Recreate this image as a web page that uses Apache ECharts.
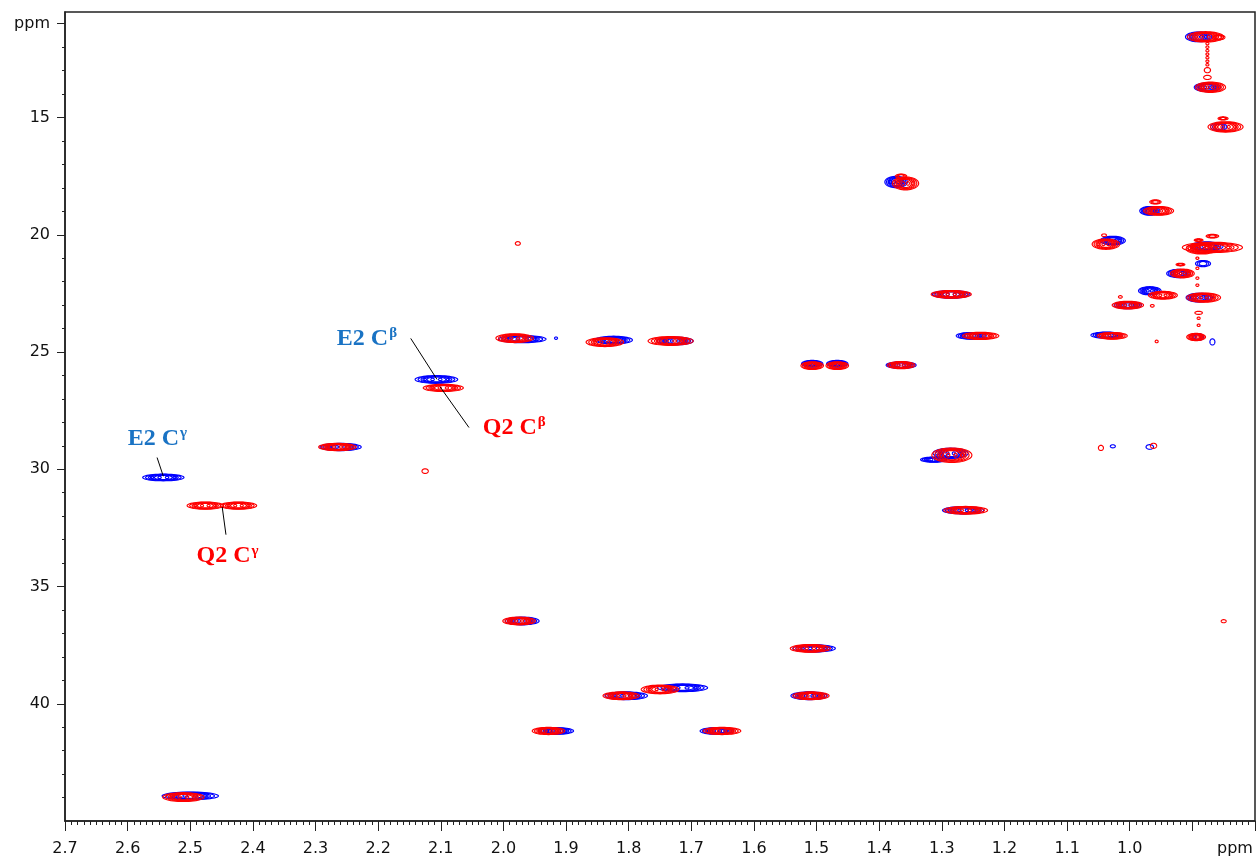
<!DOCTYPE html>
<html>
<head>
<meta charset="utf-8">
<script src="https://cdn.jsdelivr.net/npm/echarts@6/dist/echarts.min.js"></script>
<style>
  html, body { margin: 0; padding: 0; background: #fff; }
  #chart { width: 1259px; height: 858px; }
</style>
</head>
<body>
<div id="chart"></div>
<script>
// 1H / 13C correlation peaks, ppm: [1H shift, 13C shift, 1H half-width, 13C half-width]
const bluePeaks = [
  [0.890, 11.56, 0.021, 0.19],
  [0.876, 13.71, 0.021, 0.17],
  [0.858, 15.40, 0.013, 0.15],
  [1.373, 17.75, 0.018, 0.22],
  [0.968, 18.98, 0.016, 0.17],
  [1.027, 20.25, 0.020, 0.17],
  [0.877, 20.49, 0.026, 0.17],
  [0.883, 21.23, 0.012, 0.12],
  [0.922, 21.65, 0.019, 0.16],
  [0.968, 22.39, 0.018, 0.16],
  [0.889, 22.68, 0.021, 0.17],
  [1.003, 23.00, 0.022, 0.14],
  [1.037, 24.28, 0.025, 0.12],
  [0.891, 24.36, 0.009, 0.13],
  [0.868, 24.57, 0.004, 0.12],
  [1.970, 24.45, 0.038, 0.14],
  [1.916, 24.41, 0.002, 0.04],
  [1.824, 24.49, 0.030, 0.15],
  [1.726, 24.53, 0.029, 0.15],
  [1.507, 25.50, 0.017, 0.13],
  [1.467, 25.50, 0.017, 0.13],
  [1.365, 25.56, 0.024, 0.13],
  [1.285, 22.54, 0.030, 0.15],
  [1.253, 24.31, 0.024, 0.13],
  [2.107, 26.17, 0.034, 0.15],
  [2.260, 29.05, 0.033, 0.14],
  [1.027, 29.02, 0.004, 0.06],
  [0.968, 29.05, 0.006, 0.09],
  [1.313, 29.59, 0.021, 0.10],
  [1.286, 29.32, 0.028, 0.20],
  [2.543, 30.35, 0.033, 0.13],
  [1.266, 31.75, 0.033, 0.14],
  [1.970, 36.47, 0.027, 0.15],
  [1.504, 37.64, 0.034, 0.14],
  [1.714, 39.32, 0.040, 0.15],
  [1.804, 39.66, 0.034, 0.15],
  [1.512, 39.66, 0.029, 0.15],
  [1.916, 41.16, 0.028, 0.13],
  [1.659, 41.16, 0.027, 0.13],
  [2.500, 43.93, 0.045, 0.15]
];

const redPeaks = [
  [0.879, 11.56, 0.029, 0.20],
  [0.858, 11.58, 0.010, 0.10],
  [0.876, 11.85, 0.002, 0.04],
  [0.876, 12.00, 0.002, 0.04],
  [0.876, 12.15, 0.002, 0.04],
  [0.876, 12.30, 0.002, 0.04],
  [0.876, 12.45, 0.002, 0.04],
  [0.876, 12.60, 0.002, 0.04],
  [0.876, 12.75, 0.002, 0.04],
  [0.876, 12.98, 0.005, 0.10],
  [0.876, 13.29, 0.006, 0.08],
  [0.871, 13.71, 0.024, 0.20],
  [0.847, 15.40, 0.028, 0.20],
  [0.851, 15.04, 0.008, 0.06],
  [1.358, 17.81, 0.021, 0.25],
  [1.365, 17.50, 0.009, 0.08],
  [0.954, 18.98, 0.024, 0.17],
  [0.959, 18.60, 0.009, 0.08],
  [1.038, 20.40, 0.022, 0.20],
  [1.041, 20.02, 0.004, 0.05],
  [0.868, 20.54, 0.048, 0.20],
  [0.885, 20.60, 0.025, 0.20],
  [0.868, 20.06, 0.010, 0.07],
  [0.890, 20.23, 0.007, 0.05],
  [0.892, 21.00, 0.002, 0.04],
  [0.892, 21.43, 0.002, 0.04],
  [0.892, 21.85, 0.002, 0.04],
  [0.892, 22.15, 0.002, 0.04],
  [0.916, 21.65, 0.019, 0.17],
  [0.919, 21.27, 0.007, 0.05],
  [0.947, 22.58, 0.023, 0.15],
  [0.964, 23.03, 0.003, 0.05],
  [1.003, 23.00, 0.025, 0.15],
  [1.015, 22.65, 0.003, 0.05],
  [0.882, 22.68, 0.027, 0.18],
  [0.890, 23.33, 0.006, 0.06],
  [0.890, 23.56, 0.002, 0.04],
  [0.890, 23.86, 0.002, 0.04],
  [1.028, 24.31, 0.024, 0.13],
  [0.894, 24.36, 0.015, 0.14],
  [0.957, 24.55, 0.002, 0.05],
  [1.982, 24.41, 0.030, 0.17],
  [1.838, 24.58, 0.030, 0.17],
  [1.733, 24.53, 0.036, 0.17],
  [1.977, 20.37, 0.004, 0.07],
  [1.507, 25.58, 0.018, 0.15],
  [1.467, 25.58, 0.018, 0.15],
  [1.365, 25.56, 0.022, 0.14],
  [1.285, 22.54, 0.032, 0.15],
  [1.238, 24.31, 0.029, 0.14],
  [2.096, 26.53, 0.032, 0.14],
  [2.265, 29.05, 0.030, 0.14],
  [2.125, 30.08, 0.005, 0.09],
  [2.476, 31.55, 0.029, 0.14],
  [2.423, 31.55, 0.029, 0.14],
  [1.284, 29.40, 0.032, 0.28],
  [1.262, 31.75, 0.035, 0.15],
  [1.046, 29.09, 0.004, 0.10],
  [0.962, 29.00, 0.005, 0.10],
  [0.850, 36.48, 0.004, 0.06],
  [1.975, 36.47, 0.026, 0.15],
  [1.510, 37.64, 0.032, 0.15],
  [1.750, 39.39, 0.030, 0.17],
  [1.812, 39.66, 0.029, 0.15],
  [1.509, 39.66, 0.029, 0.15],
  [1.928, 41.16, 0.026, 0.14],
  [1.651, 41.16, 0.030, 0.14],
  [2.511, 43.98, 0.033, 0.17]
];

// Assignment labels: text, superscript, colour
const labelMain = ['E2 C', 'Q2 C', 'E2 C', 'Q2 C'];
const labelSup = ['\u03B2', '\u03B2', '\u03B3', '\u03B3'];
const labelColor = ['#1a73c4', '#ff0000', '#1a73c4', '#ff0000'];
// Label anchor and leader line ends, ppm: [x, y, x1, y1, x2, y2]
const labelGeom = [
  [2.266, 24.42, 2.148, 24.42, 2.106, 26.17],
  [2.033, 28.24, 2.101, 26.49, 2.055, 28.22],
  [2.600, 28.69, 2.553, 29.50, 2.543, 30.30],
  [2.490, 33.71, 2.449, 31.61, 2.443, 32.79]
];

// Axis ranges and tick values
const xRange = [0.8, 2.7];
const yRange = [10.5, 45];
const yMajorTicks = [11, 15, 20, 25, 30, 35, 40];
const yMinorTicks = [11, 12, 13, 14, 15, 16, 17, 18, 19, 20, 21, 22, 23, 24, 25, 26, 27,
  28, 29, 30, 31, 32, 33, 34, 35, 36, 37, 38, 39, 40, 41, 42, 43, 44];

const AXIS_COLOR = '#222';
const LABEL_FONT = 'DejaVu Sans';

function ellipsePoints(cx, cy, rx, ry) {
  const pts = [];
  const n = 48;
  for (let i = 0; i < n; i++) {
    const a = (i / n) * Math.PI * 2;
    pts.push([cx + rx * Math.cos(a), cy + ry * Math.sin(a)]);
  }
  return pts;
}

// Nested contour rings around each peak
function contourRenderer(color) {
  return function (params, api) {
    const c = api.coord([api.value(0), api.value(1)]);
    const s = api.size([api.value(2), api.value(3)]);
    const rx = Math.max(1.5, Math.abs(s[0]));
    const ry = Math.max(1.2, Math.abs(s[1]) * 1.1);
    const style = { stroke: color, fill: 'none', lineWidth: 1.15 };
    const children = [];
    let levels;
    if (rx < 4) levels = [1];
    else if (rx < 9) levels = [1, 0.75, 0.5];
    else levels = [1, 0.86, 0.72, 0.58, 0.44];
    levels.forEach(function (k) {
      children.push({
        type: 'polygon',
        shape: { points: ellipsePoints(c[0], c[1], rx * k, ry * (0.35 + 0.65 * k)) },
        style: style
      });
    });
    if (rx >= 9) {
      [-0.55, -0.18, 0.18, 0.55].forEach(function (o) {
        children.push({
          type: 'polygon',
          shape: { points: ellipsePoints(c[0] + o * rx, c[1], Math.max(1.5, rx * 0.08), Math.max(1.2, ry * 0.28)) },
          style: style
        });
      });
    }
    return { type: 'group', children: children };
  };
}

function annotationRenderer(params, api) {
  const i = params.dataIndex;
  const p = api.coord([api.value(0), api.value(1)]);
  const a = api.coord([api.value(2), api.value(3)]);
  const b = api.coord([api.value(4), api.value(5)]);
  const color = labelColor[i];
  return {
    type: 'group',
    children: [
      { type: 'line', shape: { x1: a[0], y1: a[1], x2: b[0], y2: b[1] }, style: { stroke: '#000', lineWidth: 1 } },
      {
        type: 'text', x: p[0], y: p[1],
        style: {
          text: '{m|' + labelMain[i] + '}{s|' + labelSup[i] + '}',
          align: 'left', verticalAlign: 'middle',
          rich: {
            m: { fontSize: 24, fontWeight: 'bold', fontFamily: 'Liberation Serif', fill: color, lineHeight: 26 },
            s: { fontSize: 15, fontWeight: 'bold', fontFamily: 'Liberation Serif', fill: color, verticalAlign: 'top', lineHeight: 15, padding: [0, 0, 0, 1] }
          }
        }
      }
    ]
  };
}

const chart = echarts.init(document.getElementById('chart'), null, { renderer: 'canvas' });

chart.setOption({
  animation: false,
  backgroundColor: '#fff',
  grid: {
    left: 65, right: 4, top: 12, bottom: 37,
    show: true, borderColor: AXIS_COLOR, borderWidth: 1.5,
    outerBoundsMode: 'none'
  },
  xAxis: {
    type: 'value', min: xRange[0], max: xRange[1], interval: 0.1, inverse: true,
    axisLine: { show: true, lineStyle: { color: AXIS_COLOR, width: 1.5 } },
    axisTick: { show: true, length: 10, lineStyle: { color: AXIS_COLOR, width: 1 } },
    minorTick: { show: true, splitNumber: 10, length: 4, lineStyle: { color: AXIS_COLOR, width: 1 } },
    splitLine: { show: false },
    axisLabel: {
      color: '#111', fontFamily: LABEL_FONT, fontSize: 16, margin: 20,
      formatter: function (v) { return v < 0.95 ? '' : v.toFixed(1); }
    }
  },
  yAxis: [
    {
      type: 'value', min: yRange[0], max: yRange[1], inverse: true,
      axisLine: { show: true, lineStyle: { color: AXIS_COLOR, width: 1.5 } },
      axisTick: { show: true, length: 8, customValues: yMajorTicks, lineStyle: { color: AXIS_COLOR, width: 1 } },
      splitLine: { show: false },
      axisLabel: {
        color: '#111', fontFamily: LABEL_FONT, fontSize: 16, margin: 15,
        customValues: yMajorTicks,
        formatter: function (v) { return v === 11 ? 'ppm' : String(v); }
      }
    },
    {
      type: 'value', min: yRange[0], max: yRange[1], inverse: true, position: 'left',
      axisLine: { show: false },
      axisTick: { show: true, length: 3, customValues: yMinorTicks, lineStyle: { color: AXIS_COLOR, width: 1 } },
      axisLabel: { show: false },
      splitLine: { show: false }
    }
  ],
  graphic: [
    { type: 'text', left: 1217, top: 841, style: { text: 'ppm', fontFamily: LABEL_FONT, fontSize: 16, fill: '#111' } }
  ],
  series: [
    {
      name: 'E2', type: 'custom', coordinateSystem: 'cartesian2d', clip: true,
      renderItem: contourRenderer('#0000ff'), data: bluePeaks, silent: true
    },
    {
      name: 'Q2', type: 'custom', coordinateSystem: 'cartesian2d', clip: true,
      renderItem: contourRenderer('#ff0000'), data: redPeaks, silent: true
    },
    {
      name: 'labels', type: 'custom', coordinateSystem: 'cartesian2d', clip: false,
      renderItem: annotationRenderer, data: labelGeom, silent: true, z: 5
    }
  ]
});
</script>
</body>
</html>
